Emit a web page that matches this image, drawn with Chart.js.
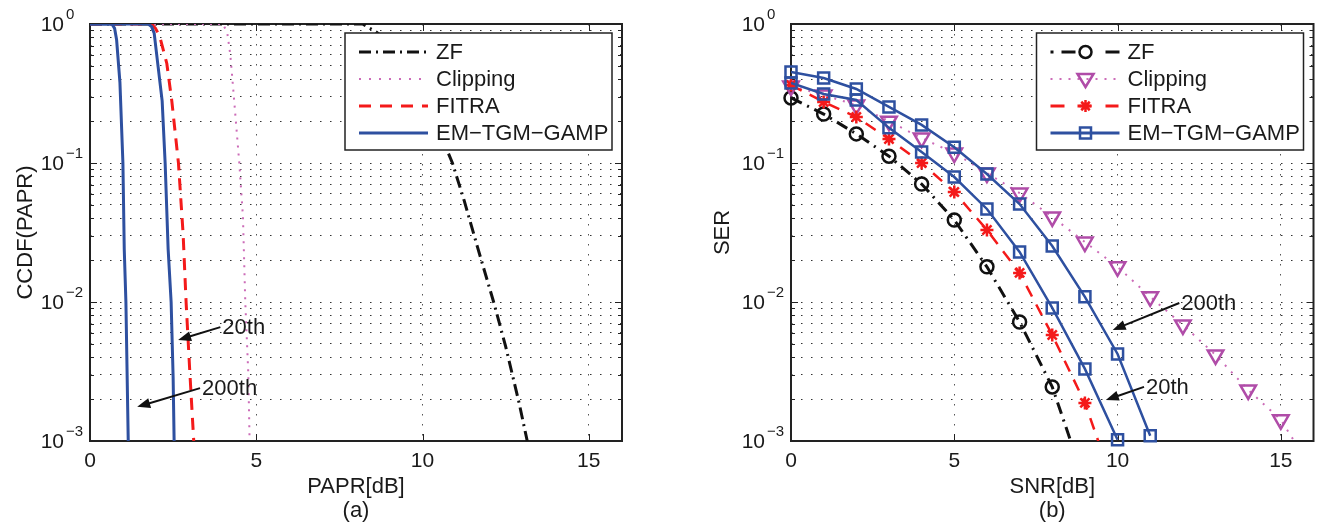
<!DOCTYPE html>
<html>
<head>
<meta charset="utf-8">
<script src="https://cdn.jsdelivr.net/npm/chart.js@4/dist/chart.umd.min.js"></script>
<style>
  body { margin: 0; background: #fff; width: 1325px; height: 525px; overflow: hidden; position: relative; }
  canvas { position: absolute; top: 0; }
  #papr { left: 0; }
  #ser { left: 662px; }
</style>
</head>
<body>
<canvas id="papr" width="660" height="525"></canvas>
<canvas id="ser" width="663" height="525"></canvas>
<script>
const FONT = '"Liberation Sans", Arial, Helvetica, sans-serif';

// axis ticks
const xTicks = [0, 5, 10, 15];
const yTicks = [0.001, 0.002, 0.003, 0.004, 0.005, 0.006, 0.007, 0.008, 0.009,
  0.01, 0.02, 0.03, 0.04, 0.05, 0.06, 0.07, 0.08, 0.09,
  0.1, 0.2, 0.3, 0.4, 0.5, 0.6, 0.7, 0.8, 0.9, 1];
const decadeTicks = [1, 0.1, 0.01, 0.001];
const decadeExp = ["0", "\u22121", "\u22122", "\u22123"];

const seriesNames = ["ZF", "Clipping", "FITRA", "EM\u2212TGM\u2212GAMP"];

// (a) CCDF of PAPR
const zfPaprX = [0, 8.2, 8.6, 9.0, 9.5, 10.0, 10.5, 10.9, 11.25, 11.65, 12.15, 12.5, 12.9, 13.15, 13.3];
const zfPaprY = [1, 1, 0.88, 0.74, 0.53, 0.33, 0.17, 0.1, 0.054, 0.025, 0.0098, 0.0048, 0.0019, 0.001, 0.0007];
const clipPaprX = [0, 4.0, 4.13, 4.22, 4.31, 4.49, 4.6, 4.67, 4.76, 4.8, 4.82];
const clipPaprY = [1, 1, 0.86, 0.6, 0.335, 0.1, 0.041, 0.01, 0.0031, 0.001, 0.0007];
const fitraPaprX = [0, 1.85, 1.97, 2.1, 2.31, 2.46, 2.66, 2.8, 2.89, 3.0, 3.12, 3.15];
const fitraPaprY = [1, 1, 0.93, 0.81, 0.52, 0.28, 0.1, 0.031, 0.01, 0.0032, 0.001, 0.0007];
const em20PaprX = [0, 1.75, 1.85, 1.93, 2.05, 2.17, 2.26, 2.35, 2.44, 2.5, 2.53, 2.54];
const em20PaprY = [1, 1, 0.96, 0.86, 0.49, 0.28, 0.1, 0.024, 0.01, 0.0029, 0.001, 0.0008];
const em200PaprX = [0, 0.66, 0.74, 0.8, 0.9, 0.99, 1.03, 1.08, 1.15, 1.16];
const em200PaprY = [1, 1, 0.93, 0.77, 0.38, 0.1, 0.024, 0.01, 0.001, 0.0008];

// (b) SER vs SNR
const snr = [0, 1, 2, 3, 4, 5, 6, 7, 8, 9, 10, 11, 12, 13, 14, 15, 16];
const serZf = [0.294, 0.225, 0.162, 0.112, 0.0706, 0.0389, 0.0179, 0.00718, 0.00245, 0.0005];
const serClip = [0.358, 0.308, 0.261, 0.2, 0.151, 0.118, 0.0847, 0.0608, 0.0409, 0.027,
  0.0179, 0.0109, 0.00684, 0.00416, 0.00233, 0.00142, 0.0006];
const serFitra = [0.364, 0.275, 0.214, 0.149, 0.1, 0.0618, 0.033, 0.0162, 0.00579, 0.00188, 0.0004];
const serEm20 = [0.376, 0.314, 0.284, 0.179, 0.12, 0.0793, 0.0467, 0.0229, 0.00906, 0.0033, 0.00102];
const serEm200 = [0.452, 0.409, 0.341, 0.253, 0.188, 0.13, 0.0833, 0.0507, 0.0253, 0.0109, 0.00423, 0.00109];

// annotations (data units)
const arrowsPapr = [
  { label: "20th", from: [3.92, 0.0066], to: [2.65, 0.00533] },
  { label: "200th", from: [3.31, 0.0024], to: [1.42, 0.00176] },
];
const arrowsSer = [
  { label: "200th", from: [11.89, 0.00984], to: [9.85, 0.00629] },
  { label: "20th", from: [10.81, 0.00245], to: [9.64, 0.00197] },
];

const BLUE = "#2e50a0";
const RED = "#f41a1a";
const BLACK = "#111";
const PINK = "#cc6cb8";
const MAGENTA = "#b04ca8";

const pts = (xs, ys) => ys.map((y, i) => ({ x: xs[i], y }));

function drawMarker(ctx, kind, x, y, color) {
  ctx.save();
  ctx.strokeStyle = color;
  ctx.lineWidth = 2.5;
  ctx.setLineDash([]);
  ctx.beginPath();
  if (kind === "circle") {
    ctx.arc(x, y, 6, 0, Math.PI * 2);
  } else if (kind === "square") {
    ctx.rect(x - 5.5, y - 5.5, 11, 11);
  } else if (kind === "triangle") {
    ctx.moveTo(x - 8, y - 5);
    ctx.lineTo(x + 8, y - 5);
    ctx.lineTo(x, y + 8);
    ctx.closePath();
  } else if (kind === "star") {
    for (let k = 0; k < 4; k++) {
      const a = (k * Math.PI) / 4;
      ctx.moveTo(x - 6 * Math.cos(a), y - 6 * Math.sin(a));
      ctx.lineTo(x + 6 * Math.cos(a), y + 6 * Math.sin(a));
    }
  }
  ctx.stroke();
  ctx.restore();
}

const framePlugin = {
  id: "frame",
  beforeDatasetsDraw(chart) {
    const { ctx, chartArea: a, scales: { x, y } } = chart;
    ctx.save();
    ctx.strokeStyle = "#222";
    ctx.lineWidth = 1;
    ctx.beginPath();
    yTicks.forEach((v) => {
      const py = Math.round(y.getPixelForValue(v)) + 0.5;
      const len = decadeTicks.includes(v) ? 7 : 4;
      ctx.moveTo(a.left, py); ctx.lineTo(a.left + len, py);
      ctx.moveTo(a.right, py); ctx.lineTo(a.right - len, py);
    });
    xTicks.forEach((v) => {
      const px = Math.round(x.getPixelForValue(v)) + 0.5;
      ctx.moveTo(px, a.bottom); ctx.lineTo(px, a.bottom - 7);
      ctx.moveTo(px, a.top); ctx.lineTo(px, a.top + 7);
    });
    ctx.stroke();
    ctx.lineWidth = 2;
    ctx.strokeRect(a.left, a.top, a.right - a.left, a.bottom - a.top);
    ctx.restore();
  },
  afterDraw(chart, args, opts) {
    const { ctx, chartArea: a, scales: { x, y } } = chart;
    ctx.save();
    ctx.fillStyle = "#1a1a1a";

    // log tick labels 10^k
    decadeTicks.forEach((v, i) => {
      const py = y.getPixelForValue(v);
      ctx.font = "21px " + FONT;
      ctx.textAlign = "right";
      ctx.textBaseline = "middle";
      ctx.fillText("10", a.left - 26, py + 1);
      ctx.font = "15px " + FONT;
      ctx.textAlign = "left";
      ctx.fillText(decadeExp[i], a.left - 24, py - 9);
    });

    // legend
    const w = 267, h = 117;
    const bx = a.right - 10 - w, by = a.top + 9;
    ctx.fillStyle = "#fff";
    ctx.fillRect(bx, by, w, h);
    ctx.strokeStyle = "#222";
    ctx.lineWidth = 1.5;
    ctx.strokeRect(bx, by, w, h);
    opts.legend.forEach((e, i) => {
      const ly = by + 19 + 27 * i;
      ctx.beginPath();
      ctx.setLineDash(e.dash || []);
      ctx.strokeStyle = e.color;
      ctx.lineWidth = e.width;
      ctx.moveTo(bx + 14, ly);
      ctx.lineTo(bx + 83, ly);
      ctx.stroke();
      ctx.setLineDash([]);
      if (e.marker) drawMarker(ctx, e.marker, bx + 49, ly, e.markerColor || e.color);
      ctx.fillStyle = "#1a1a1a";
      ctx.font = "22px " + FONT;
      ctx.textAlign = "left";
      ctx.textBaseline = "middle";
      ctx.fillText(seriesNames[i], bx + 91, ly + 1);
    });

    // arrows with labels
    ctx.strokeStyle = "#111";
    ctx.fillStyle = "#111";
    opts.arrows.forEach((ar) => {
      const x1 = x.getPixelForValue(ar.from[0]), y1 = y.getPixelForValue(ar.from[1]);
      const x2 = x.getPixelForValue(ar.to[0]), y2 = y.getPixelForValue(ar.to[1]);
      const ang = Math.atan2(y2 - y1, x2 - x1);
      const hl = 13, hw = 5;
      ctx.lineWidth = 2;
      ctx.beginPath();
      ctx.moveTo(x1, y1);
      ctx.lineTo(x2 - (hl - 2) * Math.cos(ang), y2 - (hl - 2) * Math.sin(ang));
      ctx.stroke();
      ctx.beginPath();
      ctx.moveTo(x2, y2);
      ctx.lineTo(x2 - hl * Math.cos(ang) + hw * Math.sin(ang), y2 - hl * Math.sin(ang) - hw * Math.cos(ang));
      ctx.lineTo(x2 - hl * Math.cos(ang) - hw * Math.sin(ang), y2 - hl * Math.sin(ang) + hw * Math.cos(ang));
      ctx.closePath();
      ctx.fill();
      ctx.font = "22px " + FONT;
      ctx.textAlign = "left";
      ctx.textBaseline = "middle";
      ctx.fillStyle = "#1a1a1a";
      ctx.fillText(ar.label, x1 + 2, y1 + 1);
      ctx.fillStyle = "#111";
    });
    ctx.restore();
  },
};

function makeOptions(xTitle, yTitle, yWidth, padRight, yTitlePad, legend, arrows) {
  return {
    responsive: false,
    devicePixelRatio: 1,
    animation: false,
    layout: { padding: { top: 24, right: padRight, left: 0, bottom: 0 } },
    plugins: {
      legend: { display: false },
      tooltip: { enabled: false },
      frame: { legend, arrows },
    },
    scales: {
      x: {
        type: "linear",
        min: 0,
        max: 16,
        afterBuildTicks: (s) => { s.ticks = xTicks.map((v) => ({ value: v })); },
        afterFit: (s) => { s.height = 84; },
        ticks: { color: "#1a1a1a", font: { family: FONT, size: 21 }, padding: 8, maxRotation: 0 },
        grid: { color: "#555", lineWidth: 1, drawTicks: false },
        border: { display: false, dash: [1.5, 8.5] },
        title: {
          display: true,
          text: xTitle,
          color: "#1a1a1a",
          font: { family: FONT, size: 22, lineHeight: 1.05 },
          padding: { top: 0, bottom: 3 },
        },
      },
      y: {
        type: "logarithmic",
        min: 0.001,
        max: 1,
        afterBuildTicks: (s) => { s.ticks = yTicks.map((v) => ({ value: v })); },
        afterFit: (s) => { s.width = yWidth; },
        ticks: { autoSkip: false, callback: () => "" },
        grid: { color: "#333", lineWidth: 1, drawTicks: false },
        border: { display: false, dash: [1.5, 8.5] },
        title: {
          display: true,
          text: yTitle,
          color: "#1a1a1a",
          font: { family: FONT, size: 22, lineHeight: 1.05 },
          padding: { top: yTitlePad, bottom: 0 },
        },
      },
    },
  };
}

// ---- chart (a) ----
const paprSets = [
  { label: seriesNames[0], data: pts(zfPaprX, zfPaprY), borderColor: BLACK, borderWidth: 3, borderDash: [12, 5, 2, 5] },
  { label: seriesNames[1], data: pts(clipPaprX, clipPaprY), borderColor: PINK, borderWidth: 2, borderDash: [2, 6] },
  { label: seriesNames[2], data: pts(fitraPaprX, fitraPaprY), borderColor: RED, borderWidth: 3, borderDash: [12, 8] },
  { label: seriesNames[3], data: pts(em20PaprX, em20PaprY), borderColor: BLUE, borderWidth: 3 },
  { label: seriesNames[3], data: pts(em200PaprX, em200PaprY), borderColor: BLUE, borderWidth: 3 },
].map((d) => ({ ...d, pointRadius: 0, fill: false, tension: 0 })).reverse();

new Chart(document.getElementById("papr"), {
  type: "line",
  data: { datasets: paprSets },
  options: makeOptions(["PAPR[dB]", "(a)"], "CCDF(PAPR)", 90, 38, 14, [
    { color: BLACK, width: 3, dash: [12, 5, 2, 5] },
    { color: PINK, width: 2, dash: [2, 8] },
    { color: RED, width: 3, dash: [12, 9] },
    { color: BLUE, width: 3 },
  ], arrowsPapr),
  plugins: [framePlugin],
});

// ---- chart (b) ----
function serSeries(values, color, width, dash, marker) {
  const data = pts(snr, values);
  const line = { data, borderColor: color, borderWidth: width, borderDash: dash || [], pointRadius: 0, fill: false, tension: 0 };
  const marks = {
    data: data.filter((p) => p.y >= 0.00099),
    showLine: false,
    clip: false,
    pointStyle: marker.style,
    pointRotation: marker.rotation || 0,
    pointRadius: marker.radius,
    pointBorderWidth: 2.5,
    pointBorderColor: marker.color || color,
    pointBackgroundColor: "rgba(0,0,0,0)",
  };
  return [line, marks];
}

const serSets = [
  ...serSeries(serZf, BLACK, 3, [12, 6, 2, 6], { style: "circle", radius: 6.5 }),
  ...serSeries(serClip, PINK, 2, [2, 7], { style: "triangle", rotation: 180, radius: 9, color: MAGENTA }),
  ...serSeries(serFitra, RED, 2.5, [12, 9], { style: "star", radius: 6.5 }),
  ...serSeries(serEm20, BLUE, 2.5, null, { style: "rect", radius: 7.8 }),
  ...serSeries(serEm200, BLUE, 2.5, null, { style: "rect", radius: 7.8 }),
].reverse();

new Chart(document.getElementById("ser"), {
  type: "line",
  data: { datasets: serSets },
  options: makeOptions(["SNR[dB]", "(b)"], "SER", 129, 1, 49, [
    { color: BLACK, width: 3, dash: [3, 8, 14, 30, 14, 8, 3], marker: "circle" },
    { color: PINK, width: 2, dash: [2, 7], marker: "triangle", markerColor: MAGENTA },
    { color: RED, width: 3, dash: [14, 13, 0, 0, 14], marker: "star" },
    { color: BLUE, width: 3, marker: "square" },
  ], arrowsSer),
  plugins: [framePlugin],
});
</script>
</body>
</html>
